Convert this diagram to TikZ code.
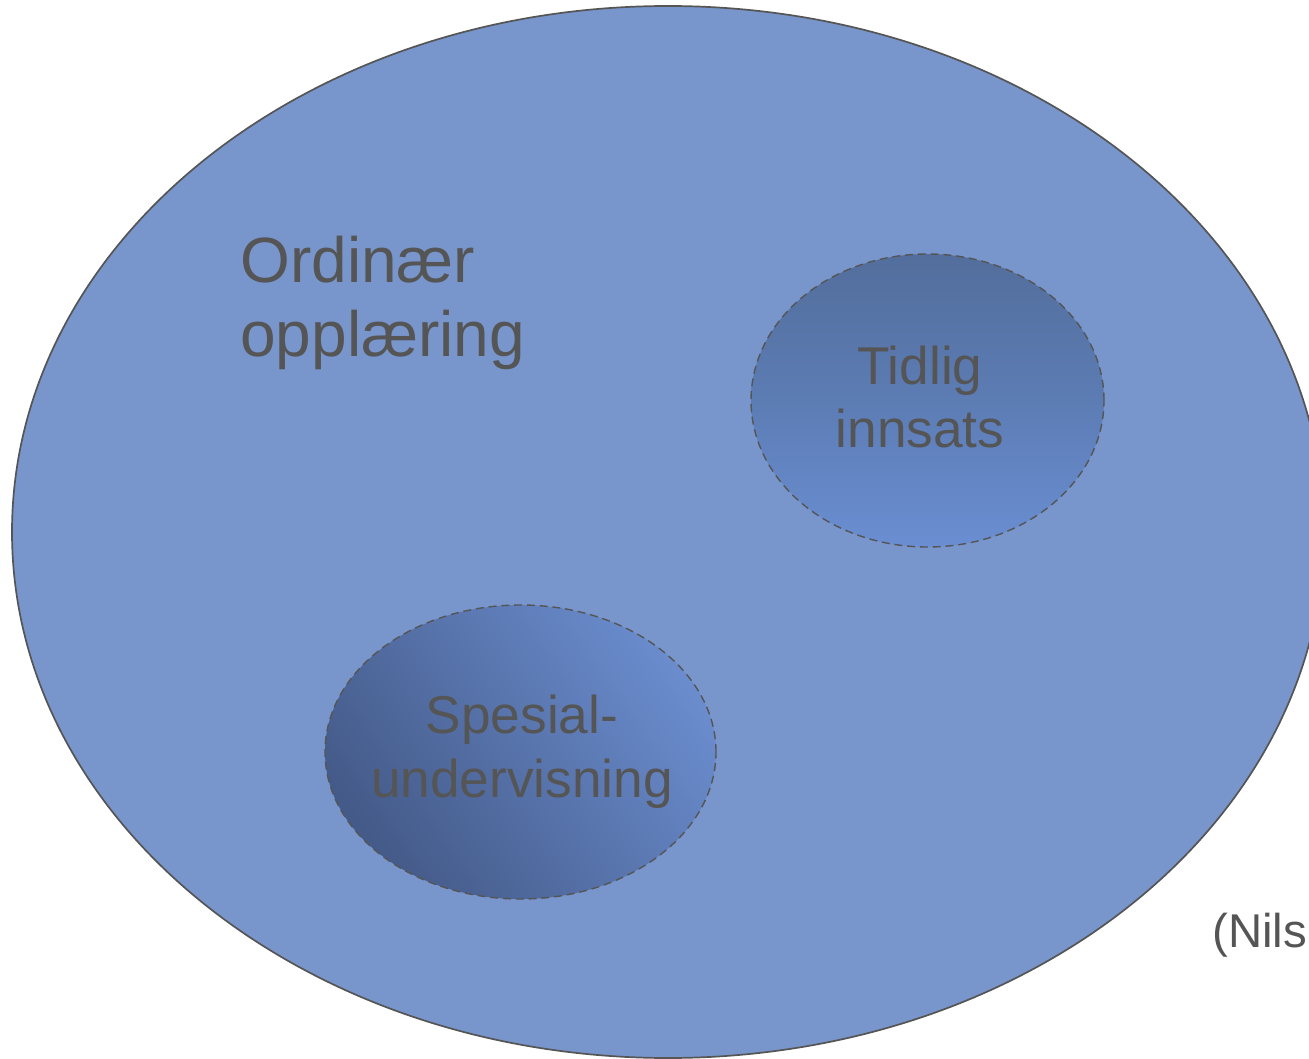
\documentclass[tikz,border=0pt]{standalone}
\usepackage{fontspec}
\setmainfont{Liberation Sans}
\usetikzlibrary{shapes.geometric}
\definecolor{bigfill}{RGB}{120,150,204}
\definecolor{rimgray}{RGB}{85,85,85}
\definecolor{labelgray}{RGB}{85,85,85}
\definecolor{tidtop}{RGB}{83,110,156}
\definecolor{tidmid}{RGB}{92,124,180}
\definecolor{tidbot}{RGB}{106,142,210}
\definecolor{spesdark}{RGB}{68,90,136}
\definecolor{speslight}{RGB}{106,140,205}
\begin{document}
\begin{tikzpicture}[x=0.5pt,y=-0.5pt,
  outerset/.style={ellipse, draw=rimgray, line width=0.85pt, fill=bigfill, inner sep=0pt},
  subset/.style={ellipse, draw=rimgray, line width=0.7pt, dash pattern=on 4pt off 2.4pt, inner sep=0pt},
  settext/.style={text=labelgray, inner sep=0pt, align=center}]
\useasboundingbox (0,0) rectangle (1309,1058);
\clip (0,0) rectangle (1309,1058);
\fill[white] (0,0) rectangle (1309,1058);

% the whole of ordinary teaching
\node[outerset, minimum width=656pt, minimum height=526pt] (ord) at (668,532) {};
\node[settext, anchor=west, align=left, font=\fontsize{32}{37}\selectfont] (ordtxt) at (240,303) {Ordinær\\opplæring};

% early intervention
\node[subset, minimum width=176.5pt, minimum height=146.5pt,
      top color=tidtop, bottom color=tidbot, middle color=tidmid] (tid) at (927.5,400.5) {};
\node[settext, font=\fontsize{26.6}{31.5}\selectfont] (tidtxt) at (920,396.5) {Tidlig\\innsats};

% special education
\node[subset, minimum width=195.5pt, minimum height=147pt,
      shading=axis, top color=speslight, bottom color=spesdark, shading angle=-55] (spe) at (520.5,752) {};
\node[settext, font=\fontsize{26.6}{32}\selectfont] (spetxt) at (522,751.5) {Spesial-\\undervisning};

% source reference
\node[settext, anchor=base west, font=\fontsize{23.7}{28}\selectfont] (src) at (1212,947) {(Nilsen)};
\end{tikzpicture}
\end{document}
